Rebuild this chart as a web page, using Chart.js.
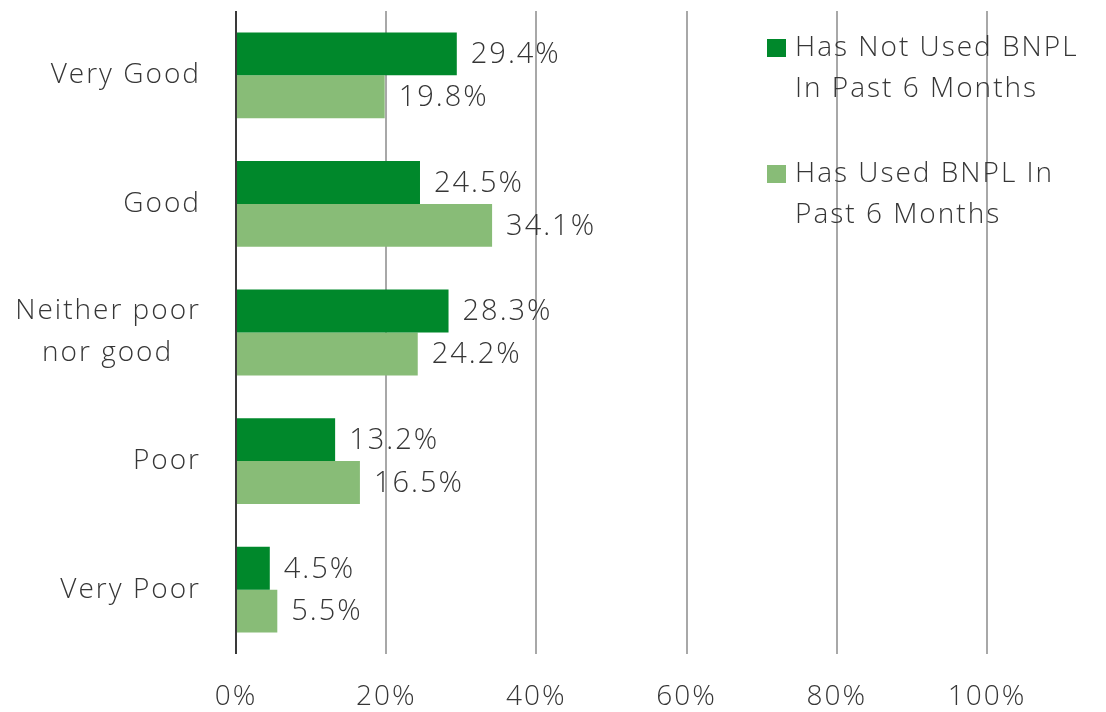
<!DOCTYPE html>
<html>
<head>
<meta charset="utf-8">
<script src="https://cdn.jsdelivr.net/npm/chart.js@4"></script>
<style>
  html, body { margin: 0; padding: 0; background: #ffffff; }
  #wrap { width: 1106px; height: 712px; }
</style>
</head>
<body>
<div id="wrap"><canvas id="c" width="1106" height="712"></canvas></div>
<script>
const categories = [
  'Very Good',
  'Good',
  ['Neither poor', 'nor good\u00a0\u00a0\u00a0'],
  'Poor',
  'Very Poor'
];
const seriesNames = [
  'Has Not Used BNPL In Past 6 Months',
  'Has Used BNPL In Past 6 Months'
];
const legendLines = [
  ['Has Not Used BNPL', 'In Past 6 Months'],
  ['Has Used BNPL In', 'Past 6 Months']
];
const notUsed = [29.4, 24.5, 28.3, 13.2, 4.5];
const used = [19.8, 34.1, 24.2, 16.5, 5.5];
const xTicks = [0, 20, 40, 60, 80, 100];

const FONT = "'Open Sans', 'Noto Sans', sans-serif";
const TEXT = '#363636';
const DARK = '#00882b';
const LIGHT = '#88bc77';

const spacing = {
  id: 'spacing',
  beforeUpdate(chart) { chart.ctx.letterSpacing = '2px'; },
  beforeDraw(chart) { chart.ctx.letterSpacing = '2px'; }
};

const valueLabels = {
  id: 'valueLabels',
  afterDatasetsDraw(chart) {
    const ctx = chart.ctx;
    ctx.save();
    ctx.font = '300 29px ' + FONT;
    ctx.fillStyle = TEXT;
    ctx.textAlign = 'left';
    ctx.textBaseline = 'middle';
    chart.data.datasets.forEach((ds, i) => {
      const meta = chart.getDatasetMeta(i);
      meta.data.forEach((bar, j) => {
        ctx.fillText(ds.data[j].toFixed(1) + '%', bar.x + 14, bar.y + 1);
      });
    });
    ctx.restore();
  }
};

const sideLegend = {
  id: 'sideLegend',
  afterDraw(chart) {
    const ctx = chart.ctx;
    ctx.save();
    ctx.font = '300 28px ' + FONT;
    ctx.textAlign = 'left';
    ctx.textBaseline = 'middle';
    const x0 = 767, y0 = 48, itemGap = 126, lineGap = 41;
    chart.data.datasets.forEach((ds, i) => {
      const y = y0 + i * itemGap;
      ctx.fillStyle = ds.backgroundColor;
      ctx.fillRect(x0, y - 9, 19, 18);
      ctx.fillStyle = TEXT;
      legendLines[i].forEach((line, k) => {
        ctx.fillText(line, x0 + 28, y + k * lineGap);
      });
    });
    ctx.restore();
  }
};

new Chart(document.getElementById('c'), {
  type: 'bar',
  data: {
    labels: categories,
    datasets: [
      { label: seriesNames[0], data: notUsed, backgroundColor: DARK,
        categoryPercentage: 0.667, barPercentage: 1.0 },
      { label: seriesNames[1], data: used, backgroundColor: LIGHT,
        categoryPercentage: 0.667, barPercentage: 1.0 }
    ]
  },
  options: {
    indexAxis: 'y',
    responsive: false,
    animation: false,
    layout: { padding: { top: 11, right: 119, bottom: 0, left: 0 } },
    plugins: {
      legend: { display: false },
      tooltip: { enabled: false }
    },
    scales: {
      x: {
        min: 0,
        max: 100,
        afterBuildTicks(scale) { scale.ticks = xTicks.map(v => ({ value: v })); },
        afterFit(scale) {
          scale.height = 58;
          scale.paddingLeft = 0; scale.paddingRight = 0;
          scale.paddingTop = 0; scale.paddingBottom = 0;
        },
        grid: {
          color: ctx => (ctx.tick && ctx.tick.value === 0) ? '#3a3a3a' : '#a8a8a8',
          lineWidth: 2,
          drawTicks: false
        },
        border: { display: false },
        ticks: {
          padding: 26,
          color: TEXT,
          font: { family: FONT, size: 28, weight: '300' },
          callback: v => v + '%'
        }
      },
      y: {
        afterFit(scale) {
          scale.width = 236;
          scale.paddingTop = 0; scale.paddingBottom = 0;
          scale.paddingLeft = 0; scale.paddingRight = 0;
        },
        grid: { display: false, drawTicks: false },
        border: { display: false },
        ticks: {
          padding: 35,
          color: TEXT,
          font: { family: FONT, size: 28, weight: '300', lineHeight: 1.5 }
        }
      }
    }
  },
  plugins: [spacing, valueLabels, sideLegend]
});
</script>
</body>
</html>
